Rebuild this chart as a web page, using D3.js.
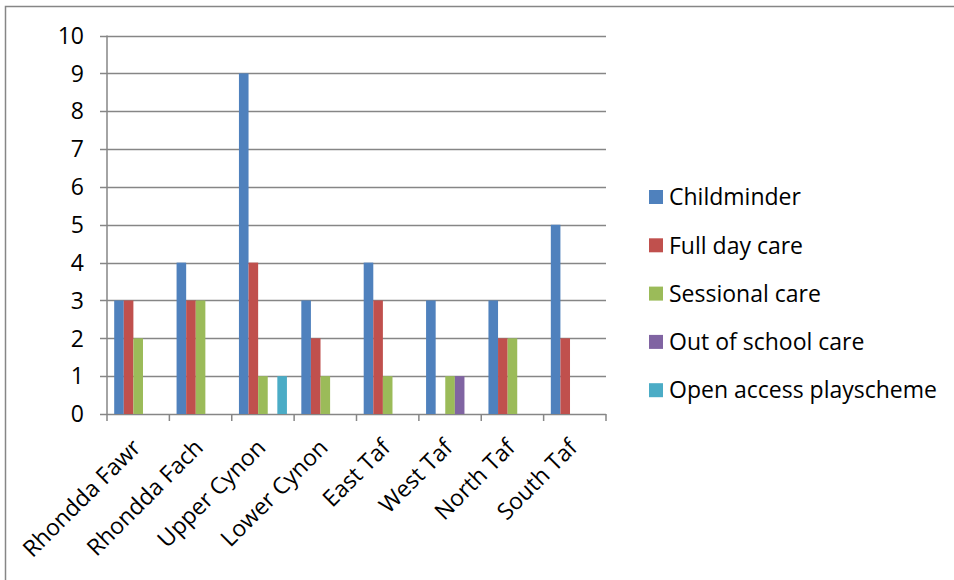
<!DOCTYPE html>
<html><head><meta charset="utf-8">
<script src="https://cdn.jsdelivr.net/npm/d3@7"></script>
<style>
html,body{margin:0;padding:0;background:#fff;}
svg text{font-family:"Open Sans",Lato,sans-serif;fill:#000;}
</style></head>
<body>
<svg id="chart" width="954" height="580"></svg>
<script>
const categories = ["Rhondda Fawr","Rhondda Fach","Upper Cynon","Lower Cynon","East Taf","West Taf","North Taf","South Taf"];
const seriesNames = ["Childminder","Full day care","Sessional care","Out of school care","Open access playscheme"];
const childminder = [3,4,9,3,4,3,3,5];
const fullDayCare = [3,3,4,2,3,0,2,2];
const sessionalCare = [2,3,1,1,1,1,2,0];
const outOfSchoolCare = [0,0,0,0,0,1,0,0];
const openAccessPlayscheme = [0,0,1,0,0,0,0,0];
const yTicks = [0,1,2,3,4,5,6,7,8,9,10];
const colors = ["#4F81BD","#C0504D","#9BBB59","#8064A2","#4BACC6"];

const seriesValues = [childminder, fullDayCare, sessionalCare, outOfSchoolCare, openAccessPlayscheme];
const svg = d3.select("#chart");

// outer border
svg.append("rect").attr("x",5.5).attr("y",6.5).attr("width",960).attr("height",600)
  .attr("fill","none").attr("stroke","#868686").attr("stroke-width",1.5);

const L=107, R=606, T=35.5, B=414;
const x = d3.scaleBand().domain(categories).range([L,R]).paddingInner(0).paddingOuter(0);
const bw = x.bandwidth()/6.5;
const xs = d3.scaleBand().domain(seriesNames).range([bw*0.75, x.bandwidth()-bw*0.75]);
const y = d3.scaleLinear().domain([0,10]).range([B,T]);

// gridlines
svg.append("g").selectAll("line").data(yTicks).join("line")
  .attr("x1",100).attr("x2",R).attr("y1",d=>Math.round(y(d))+0.5).attr("y2",d=>Math.round(y(d))+0.5)
  .attr("stroke","#868686").attr("stroke-width",1.5);

// y axis line
svg.append("line").attr("x1",L).attr("x2",L).attr("y1",T).attr("y2",B+0.5)
  .attr("stroke","#868686").attr("stroke-width",1.5);

// x ticks
const xt = d3.range(categories.length+1).map(i=>L+i*x.bandwidth());
svg.append("g").selectAll("line").data(xt).join("line")
  .attr("x1",d=>d).attr("x2",d=>d).attr("y1",B).attr("y2",B+7)
  .attr("stroke","#868686").attr("stroke-width",1.5);

// y labels
svg.append("g").selectAll("text").data(yTicks).join("text")
  .attr("x",84).attr("y",d=>y(d)).attr("dy","0.36em").attr("text-anchor","end")
  .attr("font-size",23).text(d=>d);

// bars
seriesNames.forEach((s,si)=>{
  svg.append("g").selectAll("rect").data(categories).join("rect")
    .attr("x",c=>x(c)+xs(s)).attr("width",xs.bandwidth())
    .attr("y",(c,i)=>y(seriesValues[si][i])).attr("height",(c,i)=>B-y(seriesValues[si][i]))
    .attr("fill",colors[si]);
});

// x labels
svg.append("g").selectAll("text").data(categories).join("text")
  .attr("transform",c=>`translate(${x(c)+x.bandwidth()/2+4},${449}) rotate(-45)`)
  .attr("text-anchor","end").attr("font-size",23).text(c=>c);

// legend
const lg = svg.append("g");
seriesNames.forEach((s,i)=>{
  const yy = 197 + i*48.3;
  lg.append("rect").attr("x",649).attr("y",yy-7).attr("width",14).attr("height",14).attr("fill",colors[i]);
  lg.append("text").attr("x",669).attr("y",yy).attr("dy","0.36em").attr("font-size",23).text(s);
});
</script>
</body></html>
